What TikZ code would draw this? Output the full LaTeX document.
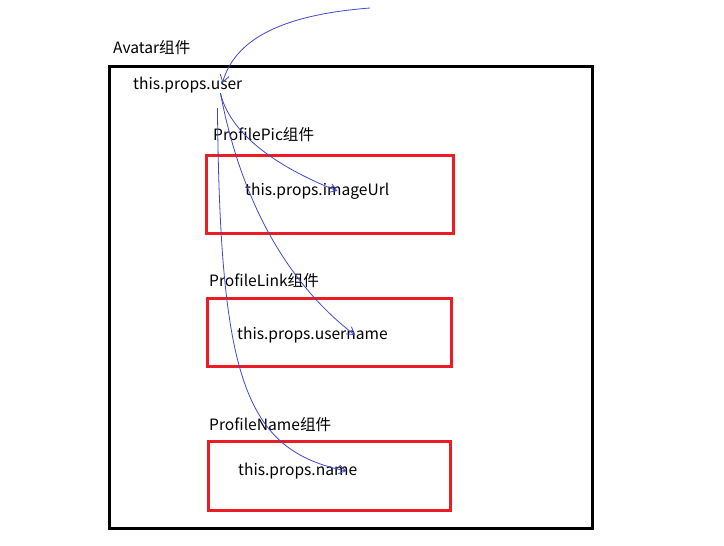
\documentclass[tikz,border=0pt]{standalone}
\usepackage{fontspec}
\setmainfont{Noto Sans CJK SC}
\usetikzlibrary{arrows.meta}
\definecolor{boxred}{RGB}{237,28,36}
\definecolor{penblue}{RGB}{63,72,204}
\tikzset{
  label/.style={anchor=west, inner sep=0pt, font=\fontsize{15.6}{18}\selectfont},
  flow/.style={penblue, line width=0.8pt, -{Straight Barb[length=7pt,width=9pt]}}
}
\begin{document}
\begin{tikzpicture}[x=1pt,y=-1pt]
\useasboundingbox (0,0) rectangle (724,546);

% Avatar
\draw[line width=3pt] (109,66) rectangle (592,528);
\node[label] (avatar) at (113,48) {Avatar组件};
\node[label] (user) at (133,85) {this.props.user};

% ProfilePic
\node[label] (pic) at (213,135) {ProfilePic组件};
\draw[boxred, line width=3pt] (206,155) rectangle (453,233);
\node[label] (img) at (245,191) {this.props.imageUrl};

% ProfileLink
\node[label] (link) at (209,281) {ProfileLink组件};
\draw[boxred, line width=3pt] (207,298) rectangle (451,366);
\node[label] (uname) at (237,335) {this.props.username};

% ProfileName
\node[label] (pname) at (209,425) {ProfileName组件};
\draw[boxred, line width=3pt] (208,441) rectangle (450,510);
\node[label] (name) at (238,471) {this.props.name};

% props flow
\coordinate (src) at (370,8);
\draw[flow] (src) .. controls (280,15) and (235,40) .. ([xshift=-20pt,yshift=-6pt]user.north east);
\draw[flow] ([xshift=-22pt]user.south east) .. controls (228,125) and (260,160) .. ([xshift=-52pt]img.east);
\draw[flow] ([xshift=-22pt]user.south east) .. controls (235,170) and (270,270) .. ([xshift=-33pt]uname.east);
\draw[flow] ([xshift=-25pt,yshift=-15pt]user.south east) .. controls (220,380) and (245,450) .. ([xshift=-11pt]name.east);

\end{tikzpicture}
\end{document}
